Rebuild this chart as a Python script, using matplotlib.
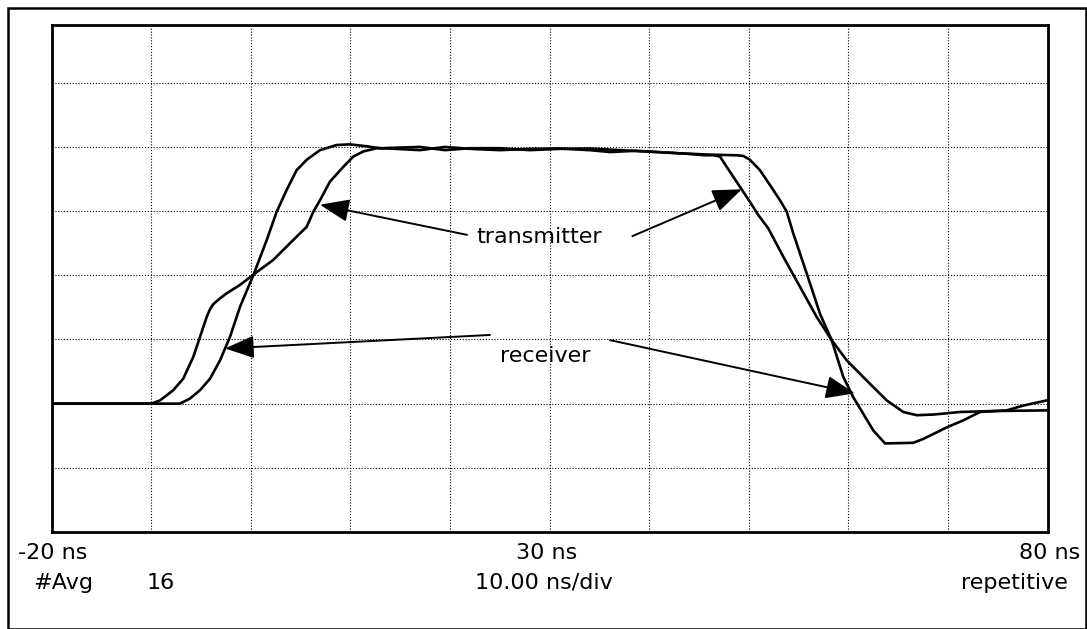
import matplotlib
matplotlib.use("Agg")
import matplotlib.pyplot as plt
from matplotlib.patches import Rectangle

# ---- waveform samples (time in ns, amplitude in screen divisions) ----
tx_time = [-20.0, -10.0, -9.13, -7.79, -6.79, -5.78, -5.11, -4.44, -4.11, -3.78,
           -3.1, -2.43, -1.09, 0.24, 2.25, 3.93, 5.60, 6.27, 6.94, 7.94, 9.28,
           10.28, 11.29, 12.63, 13.96, 16.97, 19.49, 22.0, 25.0, 28.0, 31.0, 34.0,
           36.1, 38.6, 41.1, 44.1, 45.6, 46.43, 47.1, 47.77, 48.43, 49.1, 50.1,
           50.94, 51.95, 53.45, 55.13, 56.81, 58.31, 59.82, 61.83, 63.84, 65.50,
           66.85, 68.51, 69.86, 71.19, 74.51, 77.22, 80.0]
tx_level = [-2.0, -2.0, -1.95, -1.79, -1.61, -1.27, -0.96, -0.65, -0.53, -0.45,
            -0.36, -0.28, -0.15, 0.01, 0.24, 0.50, 0.755, 0.99, 1.17, 1.46, 1.69,
            1.85, 1.93, 1.98, 1.975, 1.95, 2.00, 1.97, 1.95, 1.97, 1.975, 1.95,
            1.92, 1.94, 1.92, 1.89, 1.87, 1.87, 1.85, 1.69, 1.535, 1.38, 1.145,
            0.94, 0.73, 0.29, -0.18, -0.65, -1.01, -1.325, -1.64, -1.95, -2.13,
            -2.18, -2.17, -2.15, -2.13, -2.115, -2.11, -2.105]

rx_time = [-20.0, -7.12, -6.11, -5.11, -4.10, -3.10, -2.10, -1.09, 0.24, 1.59,
           2.59, 3.59, 4.60, 5.60, 6.94, 8.61, 9.95, 11.63, 12.96, 14.97, 16.97,
           19.49, 22.0, 25.0, 28.0, 31.0, 34.0, 37.06, 40.07, 43.09, 46.1, 48.78,
           49.44, 50.1, 51.1, 52.12, 53.12, 53.8, 54.46, 55.8, 57.14, 58.31,
           59.48, 60.48, 61.49, 62.5, 63.67, 66.51, 67.51, 69.86, 71.53, 73.2,
           75.88, 77.55, 79.9]
rx_level = [-2.0, -2.0, -1.92, -1.79, -1.61, -1.325, -0.96, -0.49, 0.0, 0.55,
            0.99, 1.33, 1.64, 1.80, 1.95, 2.03, 2.04, 2.01, 1.98, 1.99, 2.00,
            1.95, 1.98, 1.98, 1.95, 1.97, 1.975, 1.95, 1.925, 1.90, 1.88, 1.87,
            1.86, 1.80, 1.64, 1.405, 1.17, 0.99, 0.65, 0.03, -0.60, -1.01,
            -1.585, -1.90, -2.16, -2.42, -2.62, -2.61, -2.55, -2.37, -2.26, -2.13,
            -2.105, -2.03, -1.95]

# screen settings
t_start, t_stop = -20, 80          # ns
div_lo, div_hi = -4, 3.9           # visible vertical range, divisions
x_grid = list(range(-10, 80, 10))
y_grid = [-3, -2, -1, 0, 1, 2, 3]

# callouts: (label, text anchor, [(arrow tail, arrow tip), ...])
callouts = [
    ("transmitter", (22.67, 0.505), [((21.7, 0.63), (6.93, 1.10)),
                                      ((38.3, 0.61), (49.28, 1.34))]),
    ("receiver", (25.0, -1.356), [((24.0, -0.93), (-2.6, -1.14)),
                                   ((36.05, -1.01), (60.65, -1.84))]),
]

# readout lines under the graticule
readouts = [
    ("-20 ns", 18, 559, "left"), ("30 ns", 547, 559, "center"),
    ("80 ns", 1080, 559, "right"),
    ("#Avg", 33, 589, "left"), ("16", 147, 589, "left"),
    ("10.00 ns/div", 544, 589, "center"), ("repetitive", 1068, 589, "right"),
]

W, H = 1087, 629
fig = plt.figure(figsize=(W / 100, H / 100), dpi=100)
fig.patch.set_facecolor("white")

# outer frame
fig.patches.append(Rectangle((8 / W, 1 - 629 / H), (1085.5 - 8) / W, (629 - 8) / H,
                             transform=fig.transFigure, fill=False,
                             edgecolor="black", linewidth=1.8))

ax = fig.add_axes([51.7 / W, 1 - 532 / H, (1047.7 - 51.7) / W, (532 - 25) / H])
ax.set_xlim(t_start, t_stop)
ax.set_ylim(div_lo, div_hi)
ax.set_xticks(x_grid)
ax.set_yticks(y_grid)
ax.tick_params(length=0, labelbottom=False, labelleft=False)
ax.grid(True, color="black", linewidth=0.8, linestyle=(0, (1, 1.6)))
ax.set_axisbelow(True)
for s in ax.spines.values():
    s.set_linewidth(2.0)
    s.set_color("black")

ax.plot(tx_time, tx_level, color="black", linewidth=1.9, solid_joinstyle="round")
ax.plot(rx_time, rx_level, color="black", linewidth=1.9, solid_joinstyle="round")

for label, pos, arrows in callouts:
    ax.text(pos[0], pos[1], label, fontsize=16, ha="left", va="baseline",
            family="DejaVu Sans")
    for tail, tip in arrows:
        ax.annotate("", xy=tip, xytext=tail,
                    arrowprops=dict(arrowstyle="-|>,head_length=0.9,head_width=0.35",
                                    mutation_scale=20, color="black",
                                    linewidth=1.4, shrinkA=0, shrinkB=0))

for txt, px, py, ha in readouts:
    fig.text(px / W, 1 - py / H, txt, fontsize=16, ha=ha, va="baseline",
             family="DejaVu Sans")

fig.savefig("out.png", dpi=100, facecolor="white")
